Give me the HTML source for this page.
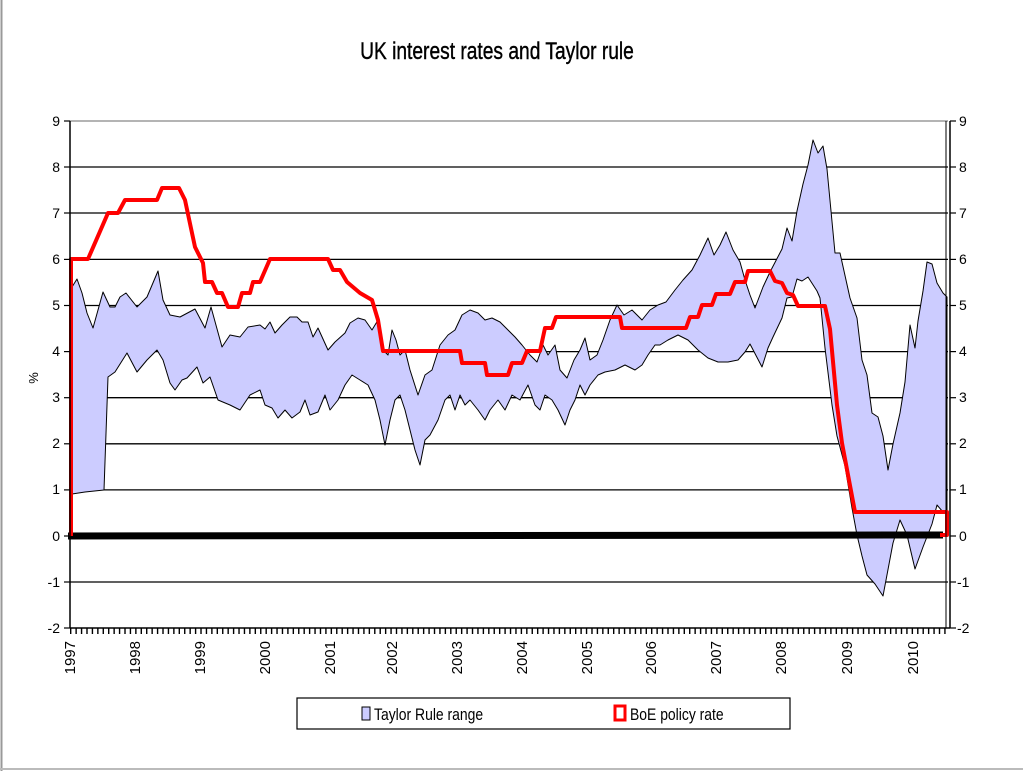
<!DOCTYPE html>
<html><head><meta charset="utf-8"><style>
html,body{margin:0;padding:0;background:#fff;}
svg{display:block;}
text{font-family:"Liberation Sans",Arial,sans-serif;}
</style></head><body>
<svg width="1023" height="771" viewBox="0 0 1023 771" xmlns="http://www.w3.org/2000/svg">
<rect x="0" y="0" width="1023" height="771" fill="#fff"/>
<line x1="1.5" y1="0" x2="1.5" y2="771" stroke="#999" stroke-width="2"/>
<line x1="0" y1="769" x2="1023" y2="769" stroke="#bbb" stroke-width="2"/>
<text x="497" y="59" font-size="24" text-anchor="middle" stroke="#000" stroke-width="0.4" transform="translate(497 0) scale(0.8 1) translate(-497 0)">UK interest rates and Taylor rule</text>

<!-- gridlines -->
<g stroke="#000" stroke-width="1.3">
<line x1="70" y1="121" x2="948" y2="121" stroke="#888"/>
<line x1="70" y1="167" x2="948" y2="167"/>
<line x1="70" y1="213" x2="948" y2="213"/>
<line x1="70" y1="259.4" x2="948" y2="259.4"/>
<line x1="70" y1="305.5" x2="948" y2="305.5"/>
<line x1="70" y1="351.6" x2="948" y2="351.6"/>
<line x1="70" y1="397.7" x2="948" y2="397.7"/>
<line x1="70" y1="443.8" x2="948" y2="443.8"/>
<line x1="70" y1="489.9" x2="948" y2="489.9"/>
<line x1="70" y1="582" x2="948" y2="582"/>
</g>

<!-- Taylor band -->
<polygon fill="#ccccff" stroke="#000" stroke-width="1" stroke-linejoin="round" points="
72,287 77,279 82,293 87,313 93,328 103,292 110,307 115,307 120,297 126,293 137,307 147,297 158,271 163,300 170,315 180,317 195,309 205,328 211,307 222,347 230,335 240,337 248,327 260,325 265,329 270,322 275,333 282,325 290,317 297,317 302,322 308,322 313,337 318,328 328,350 335,342 345,333 350,323
358,318 365,320 372,330 378,320 383,350 388,355 392,330 396,340 400,355 405,350 410,370 418,395 425,375 432,370 440,345 448,335 455,330 462,315 470,310 478,313 485,320 492,318 500,322 508,330 515,337 522,345 530,355 537,362 543,345 548,355 555,345 560,370 567,378 574,360 580,350 585,338 590,360 597,355 603,340 610,320 617,305 624,315 632,310 642,320 650,310 658,305 666,302 675,290 683,280 692,270 700,255 708,238 714,255 720,245 726,232 733,250 740,262 745,280 750,295
755,308 763,287 770,272 782,249 787,228 792,241 797,211 803,184 808,165 813,140 818,153 823,146 827,169 835,253 840,253 850,298 857,318 862,360 867,375 872,413 878,417 883,436 888,470 893,444 900,413 905,382 910,325 915,348 918,321 923,291 927,262 932,264 937,283 943,293 947,297
947,512 943,512 937,505 932,524 923,547 915,569 907,535 900,520 893,543 883,596 875,584 867,575 862,556 857,535 852,508 845,466 837,436 832,405 825,348 820,298 817,291 808,277 802,281 797,279 792,297 787,298 782,318 773,337 768,348 762,367 750,344
745,352 738,360 728,362 718,362 708,358 698,350 688,340 678,335 668,340 660,345 655,345 648,355 642,365 635,370 625,365 615,370 605,372 598,375 590,385 585,395 580,385 575,400 570,410 565,425 558,410 552,400 545,395 540,410 535,405 528,385 520,400 512,395 505,410 498,400 490,410 485,420 478,410 470,400 465,405 460,395 455,410 450,395 445,400 438,420 430,435 425,440 420,465 415,450 410,430 405,410 400,395 395,400 390,420 385,445 380,420 375,400 368,385 360,380 352,375 345,385 338,400 330,410 325,395 318,412 310,415 305,400 300,412 292,418 285,410 278,418 272,408 265,405 260,390 250,395 240,410 230,405 218,400
210,377 203,383 197,367 187,378 182,380 175,390 170,383 163,360 157,350 147,360 137,372 127,353 115,372 108,377 104,490 85,492 72,494"/>

<!-- zero line -->
<line x1="68" y1="536" x2="943" y2="535" stroke="#000" stroke-width="7"/>

<!-- BoE rate -->
<polyline fill="none" stroke="#ff0000" stroke-width="4" stroke-linejoin="round" points="
71,536 71,259 88,259 108,213 118,213 125,200 157,200 162,188 179,188 185,200 192,233 195,247 203,263 205,282 212,282 217,293 222,293 228,307 238,307 242,293 250,293 253,282 260,282 270,259 328,259 333,270 340,270 347,282 360,293 372,300 378,320 383,351 460,351 462,363 485,363 487,375 508,375 512,363 522,363 527,351 540,351 545,328 552,328 556,317 620,317 622,328 686,328 690,317 698,317 702,305 712,305 716,294 730,294 735,282 745,282 748,271 770,271 775,281 782,283 787,293 793,295 798,306 825,306 830,329 837,405 842,443 855,512 947,512 947,535 940,535"/>

<!-- axes -->
<line x1="70" y1="121" x2="70" y2="628" stroke="#000" stroke-width="1.5"/>
<line x1="946" y1="121" x2="946" y2="628" stroke="#000" stroke-width="1"/>
<line x1="950" y1="121" x2="950" y2="628" stroke="#000" stroke-width="1.5"/>
<line x1="70" y1="628" x2="950" y2="628" stroke="#000" stroke-width="1.5"/>
<line x1="70" y1="631" x2="948" y2="631" stroke="#000" stroke-width="6" stroke-dasharray="1.4 4.03"/>
<g stroke="#000" stroke-width="1.2">
<line x1="64" y1="121" x2="70" y2="121"/><line x1="64" y1="167" x2="70" y2="167"/><line x1="64" y1="213" x2="70" y2="213"/><line x1="64" y1="259.4" x2="70" y2="259.4"/><line x1="64" y1="305.5" x2="70" y2="305.5"/><line x1="64" y1="351.6" x2="70" y2="351.6"/><line x1="64" y1="397.7" x2="70" y2="397.7"/><line x1="64" y1="443.8" x2="70" y2="443.8"/><line x1="64" y1="489.9" x2="70" y2="489.9"/><line x1="64" y1="536" x2="70" y2="536"/><line x1="64" y1="582" x2="70" y2="582"/><line x1="64" y1="628" x2="70" y2="628"/>
<line x1="950" y1="121" x2="956" y2="121"/><line x1="950" y1="167" x2="956" y2="167"/><line x1="950" y1="213" x2="956" y2="213"/><line x1="950" y1="259.4" x2="956" y2="259.4"/><line x1="950" y1="305.5" x2="956" y2="305.5"/><line x1="950" y1="351.6" x2="956" y2="351.6"/><line x1="950" y1="397.7" x2="956" y2="397.7"/><line x1="950" y1="443.8" x2="956" y2="443.8"/><line x1="950" y1="489.9" x2="956" y2="489.9"/><line x1="950" y1="536" x2="956" y2="536"/><line x1="950" y1="582" x2="956" y2="582"/><line x1="950" y1="628" x2="956" y2="628"/>
</g>

<g font-size="14" text-anchor="end">
<text x="60" y="126">9</text><text x="60" y="172">8</text><text x="60" y="218">7</text><text x="60" y="264">6</text><text x="60" y="310">5</text><text x="60" y="356">4</text><text x="60" y="402">3</text><text x="60" y="448">2</text><text x="60" y="494">1</text><text x="60" y="541">0</text><text x="60" y="587">-1</text><text x="60" y="633">-2</text>
</g>
<g font-size="14" text-anchor="start">
<text x="959" y="126">9</text><text x="959" y="172">8</text><text x="959" y="218">7</text><text x="959" y="264">6</text><text x="959" y="310">5</text><text x="959" y="356">4</text><text x="959" y="402">3</text><text x="959" y="448">2</text><text x="959" y="494">1</text><text x="959" y="541">0</text><text x="957" y="587">-1</text><text x="957" y="633">-2</text>
</g>
<text x="38" y="378" font-size="13" text-anchor="middle" transform="rotate(-90 38 378)">%</text>

<g font-size="15" text-anchor="end">
<text transform="translate(75 641) rotate(-90)">1997</text>
<text transform="translate(140 641) rotate(-90)">1998</text>
<text transform="translate(205 641) rotate(-90)">1999</text>
<text transform="translate(270 641) rotate(-90)">2000</text>
<text transform="translate(335 641) rotate(-90)">2001</text>
<text transform="translate(397 641) rotate(-90)">2002</text>
<text transform="translate(462 641) rotate(-90)">2003</text>
<text transform="translate(527 641) rotate(-90)">2004</text>
<text transform="translate(592 641) rotate(-90)">2005</text>
<text transform="translate(656 641) rotate(-90)">2006</text>
<text transform="translate(721 641) rotate(-90)">2007</text>
<text transform="translate(786 641) rotate(-90)">2008</text>
<text transform="translate(852 641) rotate(-90)">2009</text>
<text transform="translate(918 641) rotate(-90)">2010</text>
</g>

<!-- legend -->
<rect x="297" y="698" width="493" height="31" fill="#fff" stroke="#000" stroke-width="1.2"/>
<rect x="362" y="707" width="8" height="13" fill="#ccccff" stroke="#000" stroke-width="1"/>
<text x="374" y="720" font-size="17" transform="translate(374 0) scale(0.82 1) translate(-374 0)">Taylor Rule range</text>
<rect x="615" y="706" width="10" height="14" fill="none" stroke="#ff0000" stroke-width="3"/>
<text x="630" y="720" font-size="17" transform="translate(630 0) scale(0.82 1) translate(-630 0)">BoE policy rate</text>
</svg>
</body></html>
